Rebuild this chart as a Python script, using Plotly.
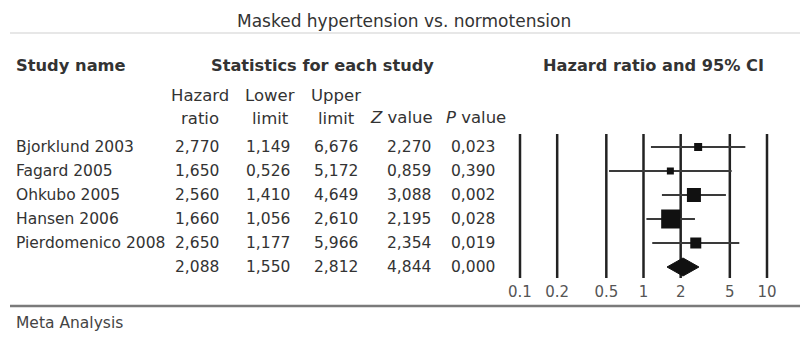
import plotly.graph_objects as go

# ---- data ----
studies = ["Bjorklund 2003", "Fagard 2005", "Ohkubo 2005", "Hansen 2006", "Pierdomenico 2008"]
hr = [2.770, 1.650, 2.560, 1.660, 2.650]
lower = [1.149, 0.526, 1.410, 1.056, 1.177]
upper = [6.676, 5.172, 4.649, 2.610, 5.966]
zval = [2.270, 0.859, 3.088, 2.195, 2.354]
pval = [0.023, 0.390, 0.002, 0.028, 0.019]
weights = [8, 7, 14, 19, 11]          # marker box sizes (px)
summary_hr, summary_lo, summary_hi, summary_z, summary_p = 2.088, 1.550, 2.812, 4.844, 0.000
tick_vals = [0.1, 0.2, 0.5, 1, 2, 5, 10]
tick_text = ["0.1", "0.2", "0.5", "1", "2", "5", "10"]

W, H = 800, 343
ROW0, STEP = 147, 24  # pixel of first row, row spacing

def ypx(px):
    return (px - ROW0) / STEP

def fmt(v):
    return f"{v:.3f}".replace(".", ",")

FONT = "DejaVu Sans"
TXT = "#333333"
FS = 15.5

fig = go.Figure()

# vertical reference lines
for t in tick_vals:
    fig.add_trace(go.Scatter(x=[t, t], y=[ypx(134), ypx(278)], mode="lines",
                             line=dict(color="#222222", width=2.5), hoverinfo="skip", showlegend=False))

# CI lines
for i in range(len(studies)):
    fig.add_trace(go.Scatter(x=[lower[i], upper[i]], y=[i, i], mode="lines",
                             line=dict(color="#3a3a3a", width=2), hoverinfo="skip", showlegend=False))
# boxes
fig.add_trace(go.Scatter(x=hr, y=list(range(len(studies))), mode="markers",
                         marker=dict(symbol="square", size=weights, color="#111111", opacity=1,
                                     line=dict(width=0)),
                         hoverinfo="skip", showlegend=False))
# diamond
n = len(studies)
dh = 9 / STEP
fig.add_trace(go.Scatter(x=[summary_lo, summary_hr, summary_hi, summary_hr, summary_lo],
                         y=[n, n - dh, n, n + dh, n], mode="lines", fill="toself",
                         fillcolor="#111111", line=dict(color="#111111", width=1),
                         hoverinfo="skip", showlegend=False))
# tick labels
fig.add_trace(go.Scatter(x=tick_vals, y=[ypx(293)] * len(tick_vals), mode="text", text=tick_text,
                         textfont=dict(family=FONT, size=15, color="#555555"),
                         hoverinfo="skip", showlegend=False))

ann = []
def A(text, x, y, xanchor="left", size=FS, color=TXT, yref="y"):
    ann.append(dict(text=text, x=x / W, y=y, xref="paper", yref=yref, xanchor=xanchor,
                    yanchor="middle", showarrow=False, font=dict(family=FONT, size=size, color=color)))

# title and headers (pixel y -> row coordinates)
A("Masked hypertension vs. normotension", 404, ypx(21), "center", size=17)
A("<b>Study name</b>", 14, ypx(65), size=16.3)
A("<b>Statistics for each study</b>", 322, ypx(65), "center", size=16.2)
A("<b>Hazard ratio and 95% CI</b>", 653, ypx(65), "center", size=16.2)
HS = 16.5
A("Hazard", 200, ypx(95), "center", size=HS)
A("ratio", 200, ypx(118), "center", size=HS)
A("Lower", 270, ypx(95), "center", size=HS)
A("limit", 270, ypx(118), "center", size=HS)
A("Upper", 336, ypx(95), "center", size=HS)
A("limit", 336, ypx(118), "center", size=HS)
A("<i>Z</i> value", 402, ypx(117), "center", size=HS)
A("<i>P</i> value", 476, ypx(117), "center", size=HS)

cols_r = [221, 292, 360, 433, 497]
for i, s in enumerate(studies):
    A(s, 14, i)
    for xr, v in zip(cols_r, [hr[i], lower[i], upper[i], zval[i], pval[i]]):
        A(fmt(v), xr, i, "right")
for xr, v in zip(cols_r, [summary_hr, summary_lo, summary_hi, summary_z, summary_p]):
    A(fmt(v), xr, n, "right")

A("Meta Analysis", 14, ypx(323), color="#444444")

# rules
shapes = [
    dict(type="line", xref="paper", yref="paper", x0=10 / W, x1=1, y0=1 - 33 / H, y1=1 - 33 / H,
         line=dict(color="#cfcfcf", width=1)),
    dict(type="line", xref="paper", yref="paper", x0=10 / W, x1=1, y0=1 - 306 / H, y1=1 - 306 / H,
         line=dict(color="#7a7a7a", width=2.5)),
]

# x axis domain so that 0.1 -> 520px and 10 -> 767px
px_per_dec = (767 - 520) / 2
x_left = 520 - 0.1 * px_per_dec
x_right = 767 + 0.1 * px_per_dec

fig.update_layout(
    width=W, height=H, margin=dict(l=0, r=0, t=0, b=0),
    paper_bgcolor="white", plot_bgcolor="rgba(0,0,0,0)",
    xaxis=dict(type="log", range=[-1.1, 1.1], domain=[x_left / W, x_right / W],
               showgrid=False, zeroline=False, showticklabels=False, ticks="", showline=False),
    yaxis=dict(range=[(H - ROW0) / STEP, -ROW0 / STEP], domain=[0, 1],
               showgrid=False, zeroline=False, showticklabels=False, ticks="", showline=False),
    annotations=ann, shapes=shapes, showlegend=False,
)

fig.write_html("out.html")
